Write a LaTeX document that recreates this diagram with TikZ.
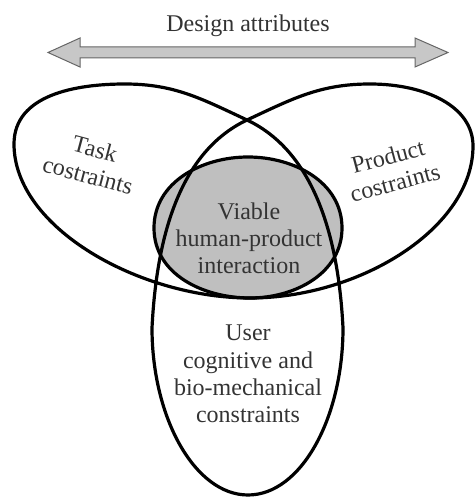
\documentclass[tikz,border=0pt]{standalone}
\usepackage{fontspec}
\setmainfont{Liberation Serif}
\tikzstyle{outline} = [line width=1.6pt, draw=black]
\tikzstyle{viable} = [line width=1.6pt, draw=black, fill=black!25]
\tikzstyle{txt} = [align=center, text=black!80, inner sep=0pt, font=\fontsize{12}{13.6}\selectfont]
\tikzstyle{attrarrow} = [draw=black!60, fill=black!22, line width=0.5pt]

\begin{document}
\begin{tikzpicture}[x=0.5pt, y=0.5pt]
\useasboundingbox (0,0) rectangle (475,498);
% design attributes arrow
\coordinate (ltip) at (48,445.5);
\coordinate (rtip) at (448,445.5);
\draw [attrarrow] (ltip) -- (80,460) -- (80,451) -- (415,451) -- (415,460) -- (rtip)
  -- (415,431) -- (415,440) -- (80,440) -- (80,431) -- cycle;
\node (attr) [txt, anchor=base] at (248,466) {Design attributes};
% viable region
\coordinate (vtop) at (248,341);
\coordinate (bottom) at (250,200);
\draw [viable] (vtop) to[out=0,in=90] (342,270) to[out=-90,in=0] (bottom)
  to[out=180,in=-90] (154,270) to[out=90,in=180] (vtop) -- cycle;
% task, product and user constraints
\coordinate (cross) at (247,378);
\draw [outline] (cross) to[out=155,in=0] (125,414) to[out=180,in=90] (14,354)
  .. controls (14,270) and (140,200) .. (bottom)
  .. controls (360,200) and (473,270) .. (473,352)
  .. controls (473,392) and (425,414) .. (370,414) to[out=180,in=25] (cross)
  .. controls (175,344) and (156,250) .. (152,170)
  .. controls (152,80) and (195,3) .. (248,3)
  .. controls (301,3) and (343,80) .. (343,170)
  .. controls (339,250) and (319,344) .. (cross) -- cycle;
\node (viabletxt) [txt] at (249,260) {Viable\\human-product\\interaction};
\node (usertxt) [txt] at (248,124) {User\\cognitive and\\bio-mechanical\\constraints};
\node (tasktxt) [txt, rotate=-15] at (91.5,336) {Task\\costraints};
\node (producttxt) [txt, rotate=15] at (391.5,328.5) {Product\\costraints};
\end{tikzpicture}
\end{document}
